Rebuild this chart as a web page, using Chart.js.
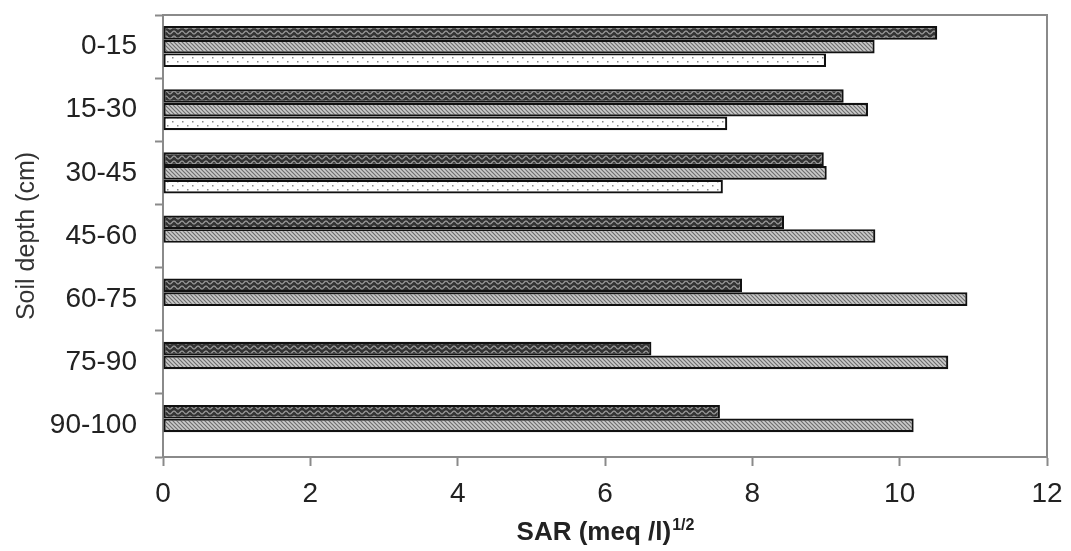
<!DOCTYPE html>
<html>
<head>
<meta charset="utf-8">
<script src="https://cdn.jsdelivr.net/npm/chart.js@4.4.0/dist/chart.umd.min.js"></script>
<style>
  html, body { margin: 0; padding: 0; background: #fff; }
  #wrap { width: 1071px; height: 551px; }
</style>
</head>
<body>
<div id="wrap"><canvas id="sarChart"></canvas></div>
<script>
// soil depth classes and SAR values per profile
const depths = ['0-15', '15-30', '30-45', '45-60', '60-75', '75-90', '90-100'];
const sarA = [10.51, 9.24, 8.97, 8.43, 7.86, 6.63, 7.56];
const sarB = [9.66, 9.57, 9.01, 9.67, 10.92, 10.66, 10.19];
const sarC = [9.00, 7.66, 7.60, null, null, null, null];
const xMin = 0, xMax = 12, xStep = 2;

const FONT = '"Liberation Sans", Arial, sans-serif';
const AXIS_GREY = '#8a8a8a';

// little tile canvases used as bar fills
function tile(w, h, draw){
  const c = document.createElement('canvas');
  c.width = w; c.height = h;
  const g = c.getContext('2d');
  draw(g, w, h);
  return c;
}
const ctx = document.getElementById('sarChart').getContext('2d');

const waveFill = ctx.createPattern(tile(8, 5, (g, w, h) => {
  g.fillStyle = '#333333';
  g.fillRect(0, 0, w, h);
  g.strokeStyle = '#9a9a9a';
  g.lineWidth = 1.3;
  g.beginPath();
  for (let x = 0; x <= w; x += 0.5) {
    const y = 2.5 + 1.4 * Math.sin(x / w * Math.PI * 2);
    if (x === 0) g.moveTo(x, y); else g.lineTo(x, y);
  }
  g.stroke();
}), 'repeat');

const hatchFill = ctx.createPattern(tile(4, 4, (g, w, h) => {
  g.fillStyle = '#cbcbcb';
  g.fillRect(0, 0, w, h);
  g.strokeStyle = '#6e6e6e';
  g.lineWidth = 1.2;
  g.beginPath();
  g.moveTo(-1, -1); g.lineTo(w + 1, h + 1);
  g.moveTo(-1, h - 1); g.lineTo(1, h + 1);
  g.moveTo(w - 1, -1); g.lineTo(w + 1, 1);
  g.stroke();
}), 'repeat');

const dotFill = ctx.createPattern(tile(10, 8, (g, w, h) => {
  g.fillStyle = '#ffffff';
  g.fillRect(0, 0, w, h);
  g.fillStyle = '#8c8c8c';
  g.fillRect(2, 1, 1.5, 1.5);
  g.fillRect(7, 5, 1.5, 1.5);
}), 'repeat');

// frame round the plot plus the x title with its superscript
const extras = {
  id: 'extras',
  afterDraw(chart){
    const { ctx: c, chartArea: a } = chart;
    c.save();
    c.strokeStyle = AXIS_GREY;
    c.lineWidth = 2;
    c.beginPath();
    c.moveTo(a.left, a.top);
    c.lineTo(a.right, a.top);
    c.lineTo(a.right, a.bottom);
    c.stroke();

    const main = 'SAR (meq /l)';
    const sup = '1/2';
    c.fillStyle = '#222';
    c.textBaseline = 'alphabetic';
    c.font = 'bold 26px ' + FONT;
    const w1 = c.measureText(main).width;
    c.font = 'bold 16px ' + FONT;
    const w2 = c.measureText(sup).width;
    const x0 = (a.left + a.right) / 2 - (w1 + w2) / 2;
    const base = 540;
    c.font = 'bold 26px ' + FONT;
    c.fillText(main, x0, base);
    c.font = 'bold 16px ' + FONT;
    c.fillText(sup, x0 + w1 + 1, base - 10);
    c.restore();
  }
};

new Chart(ctx, {
  type: 'bar',
  data: {
    labels: depths,
    datasets: [
      { label: 'A', data: sarA, backgroundColor: waveFill },
      { label: 'B', data: sarB, backgroundColor: hatchFill },
      { label: 'C', data: sarC, backgroundColor: dotFill }
    ].map(d => Object.assign(d, {
      borderColor: '#111',
      borderWidth: 2.2,
      borderSkipped: false,
      categoryPercentage: 0.65,
      barPercentage: 1.0
    }))
  },
  options: {
    indexAxis: 'y',
    responsive: true,
    maintainAspectRatio: false,
    animation: false,
    layout: { padding: { top: 15, right: 24, left: 0, bottom: 0 } },
    plugins: { legend: { display: false }, tooltip: { enabled: false } },
    scales: {
      x: {
        min: xMin, max: xMax,
        ticks: { stepSize: xStep, color: '#222', padding: 11, font: { family: FONT, size: 28 } },
        grid: { drawOnChartArea: false, tickLength: 9, tickColor: AXIS_GREY, tickWidth: 2 },
        border: { color: AXIS_GREY, width: 2 },
        afterFit(s){ s.height = 94; s.paddingLeft = 0; s.paddingRight = 0; }
      },
      y: {
        ticks: { color: '#222', padding: 18, font: { family: FONT, size: 28 } },
        grid: { drawOnChartArea: false, tickLength: 8, tickColor: AXIS_GREY, tickWidth: 2 },
        border: { color: AXIS_GREY, width: 2 },
        title: {
          display: true, text: 'Soil depth (cm)', color: '#333',
          font: { family: FONT, size: 25 }, padding: { top: 12, bottom: 0 }
        },
        afterFit(s){ s.width = 163; s.paddingTop = 0; s.paddingBottom = 0; }
      }
    }
  },
  plugins: [extras]
});
</script>
</body>
</html>
